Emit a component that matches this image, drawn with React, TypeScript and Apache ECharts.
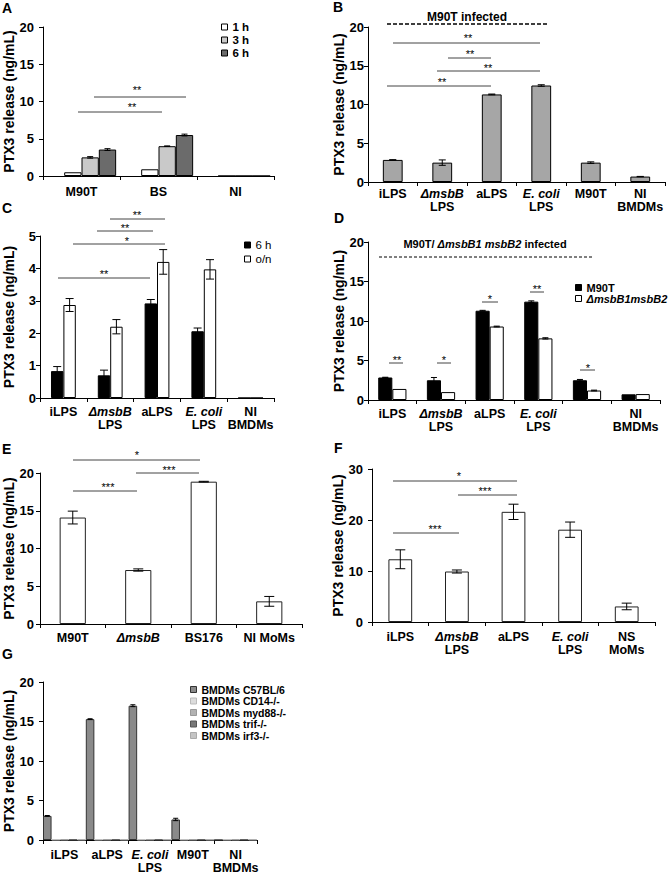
import React, { useEffect, useRef } from 'react';
import * as echarts from 'echarts';

const FONT = '"Liberation Sans", Arial, Helvetica, sans-serif';
const YNAME = 'PTX3 release (ng/mL)';

// ---------- Panel A ----------
const catsA = ['M90T', 'BS', 'NI'];
const ticksA = [0, 5, 10, 15, 20];
const a1h = [0.5, 0.9, 0];
const a3h = [2.5, 4.0, 0];
const a6h = [3.55, 5.5, 0];
const errA1h = [0, 0, 0];
const errA3h = [0.1, 0.04, 0];
const errA6h = [0.12, 0.12, 0];

// ---------- Panel B ----------
const catsB = ['iLPS', 'ΔmsbB\nLPS', 'aLPS', 'E. coli\nLPS', 'M90T', 'NI\nBMDMs'];
const ticksB = [0, 5, 10, 15, 20];
const valsB = [2.85, 2.5, 11.3, 12.45, 2.5, 0.7];
const errB = [0.03, 0.35, 0.05, 0.1, 0.1, 0.02];

// ---------- Panel C ----------
const catsC = ['iLPS', 'ΔmsbB\nLPS', 'aLPS', 'E. coli\nLPS', 'NI\nBMDMs'];
const ticksC = [0, 1, 2, 3, 4, 5];
const c6h = [0.83, 0.7, 2.92, 2.06, 0];
const cOn = [2.87, 2.2, 4.2, 3.97, 0];
const errC6h = [0.14, 0.16, 0.12, 0.1, 0];
const errCOn = [0.2, 0.22, 0.38, 0.3, 0];

// ---------- Panel D ----------
const catsD = ['iLPS', 'ΔmsbB\nLPS', 'aLPS', 'E. coli\nLPS', '', 'NI\nBMDMs'];
const ticksD = [0, 5, 10, 15, 20];
const dM90T = [2.85, 2.5, 11.3, 12.45, 2.5, 0.72];
const dMsb = [1.4, 1.0, 9.3, 7.8, 1.2, 0.75];
const errDM90T = [0.03, 0.35, 0.05, 0.1, 0.1, 0];
const errDMsb = [0, 0, 0.05, 0.08, 0.05, 0];

// ---------- Panel E ----------
const catsE = ['M90T', 'ΔmsbB', 'BS176', 'NI MoMs'];
const ticksE = [0, 5, 10, 15, 20];
const valsE = [14.1, 7.15, 18.85, 3.0];
const errE = [0.85, 0.15, 0.05, 0.65];

// ---------- Panel F ----------
const catsF = ['iLPS', 'ΔmsbB\nLPS', 'aLPS', 'E. coli\nLPS', 'NS\nMoMs'];
const ticksF = [0, 10, 20, 30];
const valsF = [12.3, 9.9, 21.6, 18.1, 3.05];
const errF = [1.85, 0.3, 1.5, 1.5, 0.65];

// ---------- Panel G ----------
const catsG = ['iLPS', 'aLPS', 'E. coli\nLPS', 'M90T', 'NI\nBMDMs'];
const ticksG = [0, 5, 10, 15, 20];
const gC57 = [3.05, 15.3, 17.0, 2.6, 0];
const gCD14 = [0.05, 0.05, 0.05, 0.05, 0.05];
const gMyd88 = [0.05, 0.05, 0.05, 0.05, 0.05];
const gTrif = [0.05, 0.05, 0.05, 0.05, 0.05];
const gIrf3 = [0.05, 0.05, 0.05, 0.05, 0.05];
const errGC57 = [0.05, 0.05, 0.12, 0.15, 0];

const LBL: Record<string, string> = {
  A1: '1 h', A3: '3 h', A6: '6 h',
  C6: '6 h', CO: 'o/n',
  DM: 'M90T', DD: '{i|ΔmsbB1msbB2}',
  G1: 'BMDMs C57BL/6', G2: 'BMDMs CD14-/-', G3: 'BMDMs myd88-/-', G4: 'BMDMs trif-/-', G5: 'BMDMs irf3-/-',
};

const RICH = {
  b: { fontFamily: FONT, fontWeight: 'bold', fontSize: 12.5, lineHeight: 13, color: '#000' },
  i: { fontFamily: FONT, fontWeight: 'bold', fontStyle: 'italic', fontSize: 12.5, lineHeight: 13, color: '#000' },
};

function richLabel(s: string) {
  return s
    .split('\n')
    .map((line) => (line === 'ΔmsbB' || line === 'E. coli' ? `{i|${line}}` : line ? `{b|${line}}` : ''))
    .join('\n');
}

function yAxis(gi: number, ticks: number[], nameGap: number, margin: number) {
  return {
    type: 'value',
    gridIndex: gi,
    min: ticks[0],
    max: ticks[ticks.length - 1],
    interval: ticks[1] - ticks[0],
    name: YNAME,
    nameLocation: 'middle',
    nameGap,
    nameTextStyle: { fontFamily: FONT, fontWeight: 'bold', fontSize: 14, color: '#000' },
    axisLine: { show: true, lineStyle: { color: '#000', width: 1 } },
    axisTick: { show: true, length: 4, lineStyle: { color: '#000' } },
    axisLabel: { margin, fontFamily: FONT, fontWeight: 'bold', fontSize: 13, color: '#000' },
    splitLine: { show: false },
  };
}

function xAxis(gi: number, cats: string[], margin: number) {
  return {
    type: 'category',
    gridIndex: gi,
    data: cats,
    axisLine: { show: true, lineStyle: { color: '#000', width: 1 } },
    axisTick: { show: true, length: 4, interval: 0, lineStyle: { color: '#000' } },
    axisLabel: { interval: 0, margin, formatter: richLabel, rich: RICH, color: '#000' },
    splitLine: { show: false },
  };
}

function bar(gi: number, name: string, data: (number | null)[], color: string, border: string, gap: string) {
  return {
    type: 'bar',
    name,
    xAxisIndex: gi,
    yAxisIndex: gi,
    data,
    barGap: '0%',
    barCategoryGap: gap,
    itemStyle: { color, borderColor: border, borderWidth: 1 },
    emphasis: { disabled: true },
    silent: true,
  };
}

function errSeries(gi: number, vals: number[], errs: number[], idx: number, n: number, gap: number, cap: number) {
  return {
    type: 'custom',
    xAxisIndex: gi,
    yAxisIndex: gi,
    z: 5,
    silent: true,
    data: vals.map((v, i) => [i, v, errs[i]]),
    renderItem: (_p: any, api: any) => {
      const i = api.value(0);
      const v = api.value(1);
      const e = api.value(2);
      if (!e) return { type: 'group', children: [] };
      const bw = api.size([1, 0])[0];
      const gw = bw * (1 - gap);
      const w = gw / n;
      const c = api.coord([i, v]);
      const x = c[0] - gw / 2 + w * (idx + 0.5);
      const yt = api.coord([i, v + e])[1];
      const yb = api.coord([i, v - e])[1];
      const st = { stroke: '#000', lineWidth: 1 };
      return {
        type: 'group',
        children: [
          { type: 'line', shape: { x1: x, y1: yt, x2: x, y2: yb }, style: st },
          { type: 'line', shape: { x1: x - cap, y1: yt, x2: x + cap, y2: yt }, style: st },
          { type: 'line', shape: { x1: x - cap, y1: yb, x2: x + cap, y2: yb }, style: st },
        ],
      };
    },
  };
}

function legend(left: number, top: number, items: { name: string; color: string; border: string }[], fontWeight: string, fontSize: number, lineHeight: number, itemGap: number) {
  return {
    left,
    top,
    orient: 'vertical',
    icon: 'rect',
    itemWidth: 6,
    itemHeight: 6,
    itemGap,
    selectedMode: false,
    padding: 0,
    data: items.map((it) => ({ name: it.name, itemStyle: { color: it.color, borderColor: it.border, borderWidth: 1 } })),
    formatter: (n: string) => LBL[n] || n,
    textStyle: {
      fontFamily: FONT,
      fontWeight,
      fontSize,
      lineHeight,
      color: '#000',
      rich: { i: { fontFamily: FONT, fontWeight: 'bold', fontStyle: 'italic', fontSize, lineHeight, color: '#000' } },
    },
  };
}

function txt(x: number, y: number, text: string, fontSize: number, fontWeight: string, align = 'center', vAlign = 'middle', rich?: any) {
  const style: any = {
    text,
    fontFamily: FONT,
    fontSize,
    fontWeight,
    fill: '#000',
    align,
    verticalAlign: vAlign,
    textAlign: align,
    textVerticalAlign: vAlign,
  };
  if (rich) style.rich = rich;
  return { type: 'text', x, y, silent: true, style };
}

function hline(x1: number, x2: number, y: number, color = '#444', width = 1, dash?: number[]) {
  const style: any = { stroke: color, lineWidth: width };
  if (dash) style.lineDash = dash;
  return { type: 'line', silent: true, shape: { x1, y1: y, x2, y2: y }, style };
}

// significance annotations: [x1, x2, lineY, textX, starY, label]
const SIGS: [number, number, number, number, number, string][] = [
  [94, 186, 97, 137, 88, '**'],
  [78, 162, 112, 132, 105, '**'],
  [393, 540, 43, 468, 36, '**'],
  [448, 491, 58, 470, 52, '**'],
  [437, 540, 71, 488, 66, '**'],
  [387, 491, 86, 442, 80, '**'],
  [110, 165, 219, 137, 213, '**'],
  [97, 153, 231, 125, 225.5, '**'],
  [73, 165, 244, 127, 239, '*'],
  [58, 150, 278, 104, 272, '**'],
  [389, 403, 363, 397, 358, '**'],
  [437, 451, 363, 444, 358, '*'],
  [482, 498, 302, 490, 297, '*'],
  [530, 544, 292, 537, 287, '**'],
  [580, 595, 370, 588, 366, '*'],
  [73, 200, 460, 137, 453, '*'],
  [136, 199, 473, 169, 468, '***'],
  [73, 137, 491, 108, 485, '***'],
  [393, 517, 481, 459, 474, '*'],
  [458, 517, 495, 485, 489, '***'],
  [393, 459, 533, 435, 527, '***'],
];

function buildOption() {
  const grid = [
    { left: 43, top: 27, width: 231, height: 149 },
    { left: 368, top: 27, width: 297, height: 155 },
    { left: 40, top: 236, width: 234, height: 162 },
    { left: 368, top: 242, width: 292, height: 158 },
    { left: 40, top: 473, width: 262, height: 151 },
    { left: 372, top: 469, width: 283, height: 153 },
    { left: 43, top: 682, width: 214, height: 160 },
  ];
  const xAxes = [
    xAxis(0, catsA, 9),
    xAxis(1, catsB, 5),
    xAxis(2, catsC, 7),
    xAxis(3, catsD, 7),
    xAxis(4, catsE, 7),
    xAxis(5, catsF, 8),
    xAxis(6, catsG, 8),
  ];
  const yAxes = [
    yAxis(0, ticksA, 27, 9),
    yAxis(1, ticksB, 19, 4),
    yAxis(2, ticksC, 24, 4),
    yAxis(3, ticksD, 19, 4),
    yAxis(4, ticksE, 24, 6),
    yAxis(5, ticksF, 23, 9),
    yAxis(6, ticksG, 27, 9),
  ];

  const series: any[] = [
    // A (first slot is an empty placeholder, as in the original layout)
    bar(0, 'A0', catsA.map(() => null), 'transparent', 'transparent', '10%'),
    bar(0, 'A1', a1h, '#ffffff', '#000', '10%'),
    bar(0, 'A3', a3h, '#c9c9c9', '#000', '10%'),
    bar(0, 'A6', a6h, '#6b6b6b', '#000', '10%'),
    errSeries(0, a1h, errA1h, 1, 4, 0.1, 3),
    errSeries(0, a3h, errA3h, 2, 4, 0.1, 3),
    errSeries(0, a6h, errA6h, 3, 4, 0.1, 3),
    // B
    bar(1, 'B', valsB, '#a6a6a6', '#000', '60%'),
    errSeries(1, valsB, errB, 0, 1, 0.6, 3.5),
    // C
    bar(2, 'C6', c6h, '#000000', '#000', '47%'),
    bar(2, 'CO', cOn, '#ffffff', '#000', '47%'),
    errSeries(2, c6h, errC6h, 0, 2, 0.47, 4),
    errSeries(2, cOn, errCOn, 1, 2, 0.47, 4),
    // D
    bar(3, 'DM', dM90T, '#000000', '#000', '42%'),
    bar(3, 'DD', dMsb, '#ffffff', '#000', '42%'),
    errSeries(3, dM90T, errDM90T, 0, 2, 0.42, 3),
    errSeries(3, dMsb, errDMsb, 1, 2, 0.42, 3),
    // E
    bar(4, 'E', valsE, '#ffffff', '#222', '60%'),
    errSeries(4, valsE, errE, 0, 1, 0.6, 5),
    // F
    bar(5, 'F', valsF, '#ffffff', '#222', '58%'),
    errSeries(5, valsF, errF, 0, 1, 0.58, 5),
    // G
    bar(6, 'G1', gC57, '#8a8a8a', '#333', '0%'),
    bar(6, 'G2', gCD14, '#dcdcdc', '#bbb', '0%'),
    bar(6, 'G3', gMyd88, '#b2b2b2', '#999', '0%'),
    bar(6, 'G4', gTrif, '#777777', '#555', '0%'),
    bar(6, 'G5', gIrf3, '#c4c4c4', '#aaa', '0%'),
    errSeries(6, gC57, errGC57, 0, 5, 0, 2.5),
  ];

  const legends = [
    legend(221, 21, [
      { name: 'A1', color: '#ffffff', border: '#000' },
      { name: 'A3', color: '#c9c9c9', border: '#000' },
      { name: 'A6', color: '#6b6b6b', border: '#000' },
    ], 'bold', 11.5, 12, 1),
    legend(244, 239, [
      { name: 'C6', color: '#000000', border: '#000' },
      { name: 'CO', color: '#ffffff', border: '#000' },
    ], 'normal', 11.5, 12, 2),
    legend(575, 282, [
      { name: 'DM', color: '#000000', border: '#000' },
      { name: 'DD', color: '#ffffff', border: '#000' },
    ], 'bold', 11, 11, 0),
    legend(190, 684, [
      { name: 'G1', color: '#8a8a8a', border: '#333' },
      { name: 'G2', color: '#dcdcdc', border: '#bbb' },
      { name: 'G3', color: '#b2b2b2', border: '#999' },
      { name: 'G4', color: '#777777', border: '#555' },
      { name: 'G5', color: '#c4c4c4', border: '#aaa' },
    ], 'bold', 10.5, 11, 0.5),
  ];

  const graphic: any[] = [];
  const letters: [string, number, number][] = [
    ['A', 2, 1], ['B', 333, 0], ['C', 2, 201], ['D', 334, 211], ['E', 2, 442], ['F', 334, 441], ['G', 2, 647],
  ];
  letters.forEach(([t, x, y]) => graphic.push(txt(x, y, t, 14, 'bold', 'left', 'top')));

  // B title and dashed line
  graphic.push(txt(467, 17, 'M90T infected', 12, 'bold'));
  graphic.push(hline(387, 547, 24, '#000', 1.5, [4, 2]));
  // D title and dashed line
  graphic.push(
    txt(485, 244, '{n|M90T/ }{i|ΔmsbB1 msbB2}{n| infected}', 11, 'bold', 'center', 'middle', {
      n: { fontFamily: FONT, fontWeight: 'bold', fontSize: 11, fill: '#000' },
      i: { fontFamily: FONT, fontWeight: 'bold', fontStyle: 'italic', fontSize: 11, fill: '#000' },
    })
  );
  graphic.push(hline(379, 592, 257, '#000', 1, [3, 2]));

  SIGS.forEach(([x1, x2, y, tx, ty, s]) => {
    graphic.push(hline(x1, x2, y, '#444', 1));
    graphic.push(txt(tx, ty + 2, s, 11, 'normal'));
  });

  return {
    animation: false,
    backgroundColor: '#ffffff',
    textStyle: { fontFamily: FONT },
    grid,
    xAxis: xAxes,
    yAxis: yAxes,
    legend: legends,
    series,
    graphic,
  };
}

export default function App() {
  const ref = useRef<HTMLDivElement>(null);
  useEffect(() => {
    if (!ref.current) return;
    const chart = echarts.init(ref.current, undefined, { renderer: 'svg' });
    chart.setOption(buildOption() as any);
    return () => chart.dispose();
  }, []);
  return (
    <div
      ref={ref}
      style={{ position: 'absolute', left: 0, top: 0, width: 670, height: 874, background: '#fff' }}
    />
  );
}
